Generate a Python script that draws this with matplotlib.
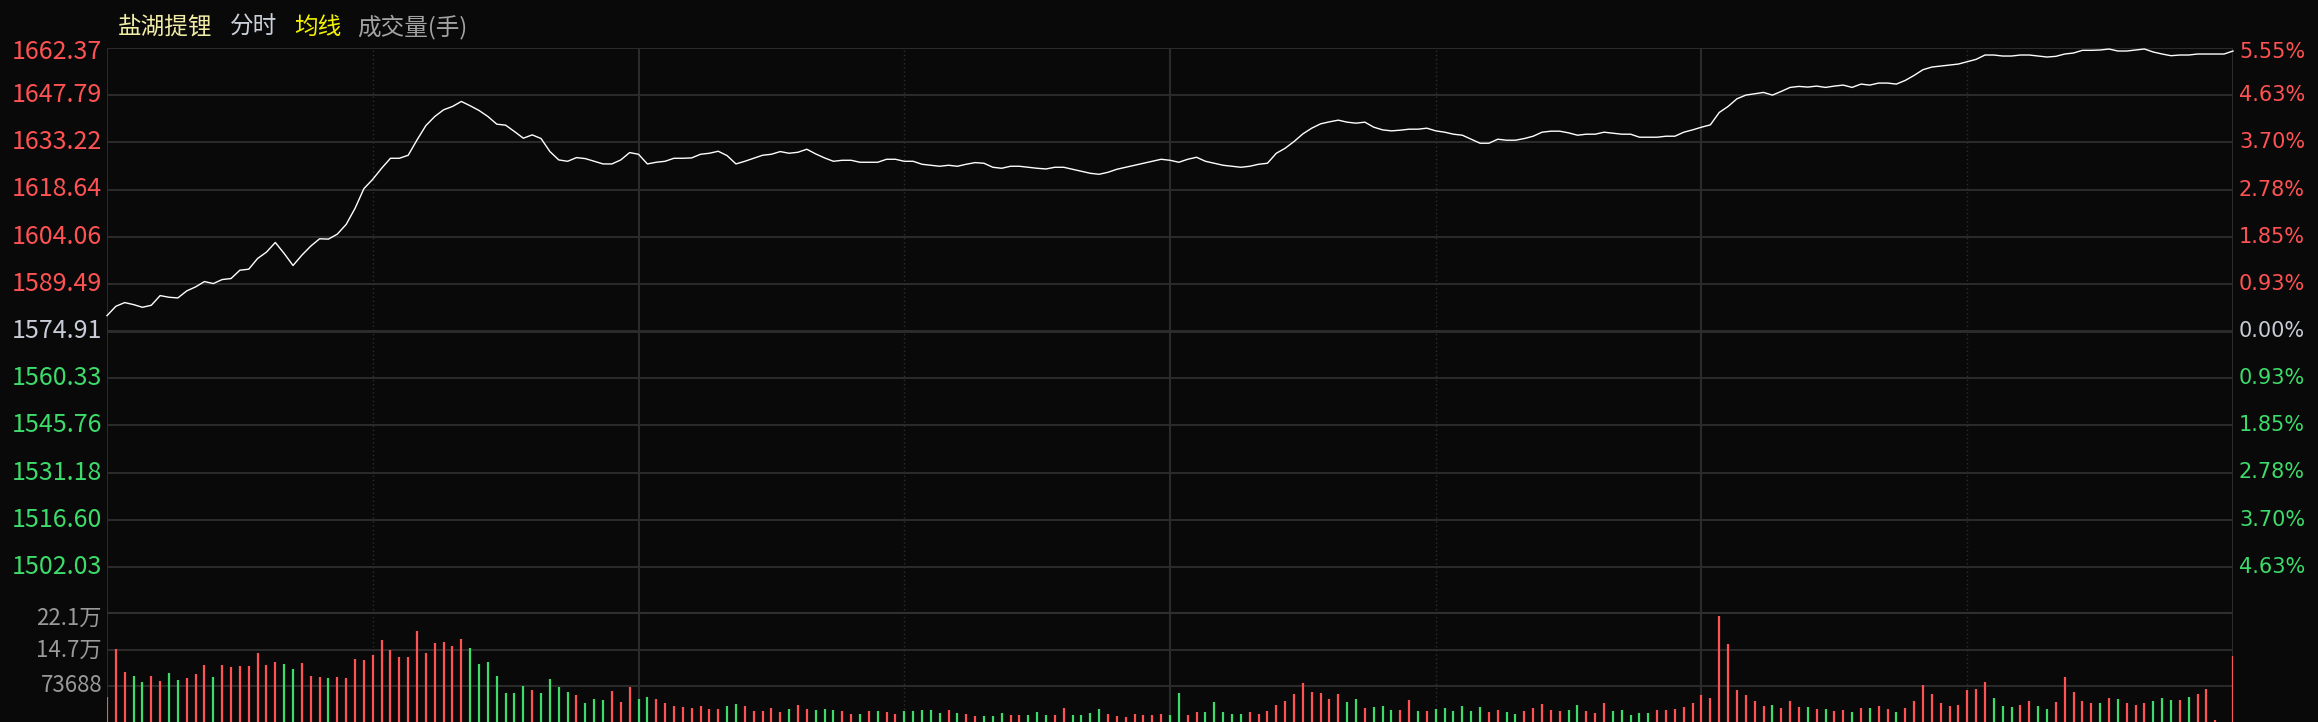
import numpy as np
import matplotlib.pyplot as plt
import matplotlib.transforms as mtransforms

plt.rcParams['font.family'] = ['Noto Sans CJK SC', 'DejaVu Sans']

# Intraday data, one point per minute from 9:30 to 15:00 (241 points)
prev_close = 1574.91
price_ticks = ['1662.37', '1647.79', '1633.22', '1618.64', '1604.06', '1589.49',
               '1574.91', '1560.33', '1545.76', '1531.18', '1516.60', '1502.03']
pct_ticks = ['5.55%', '4.63%', '3.70%', '2.78%', '1.85%', '0.93%',
             '0.00%', '0.93%', '1.85%', '2.78%', '3.70%', '4.63%']
vol_ticks = [221064, 147376, 73688]
vol_tick_labels = ['22.1万', '14.7万', '73688']

prices = [
    1579.66, 1582.55, 1583.69, 1583.07, 1582.24, 1582.86, 1585.85, 1585.34, 1585.13, 1587.30,
    1588.54, 1590.19, 1589.57, 1590.81, 1591.12, 1593.70, 1594.01, 1597.32, 1599.28, 1602.27,
    1598.87, 1595.15, 1598.35, 1601.14, 1603.41, 1603.31, 1604.85, 1607.85, 1612.81, 1618.90,
    1621.79, 1625.20, 1628.29, 1628.29, 1629.22, 1633.97, 1638.41, 1641.20, 1643.27, 1644.30,
    1645.85, 1644.51, 1643.06, 1641.20, 1638.83, 1638.52, 1636.55, 1634.49, 1635.52, 1634.39,
    1630.36, 1627.78, 1627.36, 1628.50, 1628.19, 1627.36, 1626.54, 1626.54, 1627.78, 1630.05,
    1629.53, 1626.54, 1627.06, 1627.36, 1628.29, 1628.29, 1628.40, 1629.53, 1629.84, 1630.46,
    1629.12, 1626.54, 1627.36, 1628.29, 1629.22, 1629.53, 1630.36, 1629.84, 1630.15, 1631.08,
    1629.64, 1628.40, 1627.36, 1627.67, 1627.67, 1627.06, 1627.06, 1627.06, 1627.98, 1627.98,
    1627.36, 1627.36, 1626.44, 1626.13, 1625.82, 1626.13, 1625.82, 1626.44, 1626.95, 1626.75,
    1625.51, 1625.20, 1625.82, 1625.82, 1625.51, 1625.20, 1624.99, 1625.51, 1625.51, 1624.89,
    1624.27, 1623.65, 1623.34, 1623.96, 1624.89, 1625.51, 1626.13, 1626.75, 1627.36, 1627.98,
    1627.67, 1627.06, 1627.98, 1628.60, 1627.36, 1626.75, 1626.13, 1625.82, 1625.51, 1625.82,
    1626.44, 1626.75, 1629.84, 1631.39, 1633.46, 1635.83, 1637.59, 1638.93, 1639.55, 1640.07,
    1639.45, 1639.14, 1639.45, 1637.90, 1637.07, 1636.76, 1636.97, 1637.28, 1637.28, 1637.59,
    1636.76, 1636.35, 1635.73, 1635.42, 1634.18, 1632.94, 1632.94, 1634.18, 1633.87, 1633.87,
    1634.39, 1635.11, 1636.35, 1636.66, 1636.66, 1636.14, 1635.42, 1635.73, 1635.73, 1636.35,
    1636.04, 1635.73, 1635.73, 1634.80, 1634.80, 1634.80, 1635.11, 1635.11, 1636.35, 1637.07,
    1637.90, 1638.62, 1642.44, 1644.30, 1646.67, 1647.81, 1648.22, 1648.64, 1647.81, 1648.95,
    1650.19, 1650.50, 1650.29, 1650.60, 1650.19, 1650.60, 1650.91, 1650.19, 1651.22, 1650.91,
    1651.53, 1651.53, 1651.22, 1652.35, 1653.90, 1655.66, 1656.48, 1656.79, 1657.10, 1657.41,
    1658.14, 1658.86, 1660.20, 1660.20, 1659.89, 1659.89, 1660.20, 1660.20, 1659.89, 1659.58,
    1659.79, 1660.51, 1660.82, 1661.65, 1661.65, 1661.75, 1662.06, 1661.44, 1661.44, 1661.75,
    1662.06, 1661.13, 1660.51, 1659.99, 1660.20, 1660.20, 1660.51, 1660.51, 1660.51, 1660.51,
    1661.44,
]

volumes = [
    51900, 149400, 102300, 94200, 81900, 94200, 83900, 100300, 86000, 90100,
    98300, 116700, 92100, 116700, 112600, 114600, 114600, 141200, 116700, 122800,
    118700, 108500, 120800, 94200, 92100, 90100, 92100, 90100, 129000, 126900,
    137100, 167800, 147400, 133000, 133000, 186300, 141200, 161700, 163800, 155600,
    169900, 151500, 118700, 122800, 94200, 59400, 59400, 73700, 65500, 59400,
    88000, 71600, 61400, 55300, 38900, 47100, 45000, 63500, 40900, 71600,
    47100, 51200, 47100, 38900, 32800, 30700, 28700, 32800, 26600, 26600,
    32800, 36800, 32800, 22500, 22500, 28700, 20500, 26600, 34800, 26600,
    24600, 26600, 24600, 22500, 16400, 16400, 22500, 22500, 20500, 16400,
    22500, 22500, 24600, 24600, 18400, 24600, 18400, 16400, 12300, 12300,
    12300, 18400, 14300, 14300, 14300, 20500, 14300, 14300, 28700, 14300,
    14300, 18400, 26600, 16400, 12300, 10200, 16400, 14300, 14300, 16400,
    14300, 59400, 14300, 20500, 20500, 40900, 20500, 16400, 16400, 20500,
    16400, 22500, 34800, 43000, 57300, 79800, 61400, 59400, 47100, 57300,
    40900, 47100, 28700, 30700, 32800, 24600, 24600, 45000, 22500, 22500,
    26600, 28700, 22500, 32800, 22500, 30700, 20500, 24600, 20500, 16400,
    22500, 28700, 36800, 24600, 22500, 24600, 34800, 22500, 18400, 38900,
    22500, 24600, 14300, 18400, 18400, 24600, 24600, 26600, 30700, 38900,
    55300, 49100, 217000, 159700, 65500, 55300, 43000, 32800, 34800, 28700,
    43000, 30700, 30700, 26600, 26600, 22500, 24600, 20500, 28700, 28700,
    32800, 26600, 20500, 28700, 43000, 75700, 57300, 38900, 32800, 34800,
    65500, 67500, 81900, 49100, 32800, 30700, 34800, 43000, 32800, 26600,
    40900, 92100, 61400, 43000, 38900, 38900, 49100, 47100, 38900, 34800,
    38900, 43000, 49100, 45000, 45000, 51200, 57300, 67500, 4100, 0,
    135100,
]

# r = up bar, g = down bar
bar_dirs = ("rrrggrrggr" "rrgrrrrrrr" "ggrrrgrrrr" "rrrrrrrrrr" "rgggggggrg"
            "gggrgggrrr" "ggrrrrrrrr" "ggrrrrrgrr" "gggrrgrgrr" "gggggrgrrg"
            "ggrrgggrrg" "gggrrrrrrr" "ggrrgggggr" "rrrrrrrrrr" "ggrgggrrgr"
            "ggggggrrgg" "rrrrrggrrr" "gggggrrrrr" "rrrrrrrrgr" "rrgrgrrgrg"
            "rrgrrrrrrr" "rrrgggrrgg" "rrrrrgrgrr" "rgggrgrrrr" "r")

# colours
BG = '#090909'
GRID = '#2b2b2b'
RED = '#ff5252'
GREEN = '#3ddc6a'
NEUTRAL = '#c8ccd6'

W, H = 2318, 722
fig = plt.figure(figsize=(W / 100, H / 100), dpi=100, facecolor=BG)

left, right = 107, 2233
top, sep = 48, 614
ax = fig.add_axes([left / W, (H - sep) / H, (right - left) / W, (sep - top) / H])
axv = fig.add_axes([left / W, 0, (right - left) / W, (H - sep) / H])

step = (1662.37 - prev_close) / 6
y_top = prev_close + 6 * step
y_bot = prev_close - 6 * step
minutes = np.arange(len(prices))

for a in (ax, axv):
    a.set_facecolor(BG)
    a.set_xlim(0, 240)
    a.set_xticks([])
    a.set_yticks([])
    for s in a.spines.values():
        s.set_visible(False)
    # vertical grid: solid every hour, dotted every half hour
    for m in (60, 120, 180):
        a.axvline(m, color=GRID, lw=1.5, zorder=1)
    for m in (30, 90, 150, 210):
        a.axvline(m, color='#2e2e2e', lw=1, ls=(0, (1, 2)), zorder=1)
    a.axvline(0, color=GRID, lw=1.5, zorder=1)
    a.axvline(240, color=GRID, lw=1.5, zorder=1)

# price pane
ax.set_ylim(y_bot, y_top)
for k in range(-6, 7):
    lw = 2.2 if k == 0 else 1.4
    ax.axhline(prev_close + k * step, color=GRID, lw=lw, zorder=1)
ax.axhline(y_bot, color='#2f2f2f', lw=3, zorder=1)
ax.plot(minutes, prices, color='white', lw=1.0, zorder=3, clip_on=False)

lab_tr = mtransforms.blended_transform_factory(ax.transAxes, ax.transData)
for k, (pl, cl) in enumerate(zip(price_ticks, pct_ticks)):
    yv = y_top - k * step
    if k < 6:
        col = RED
    elif k == 6:
        col = NEUTRAL
    else:
        col = GREEN
    ytxt = yv - step * 0.08 if k == 0 else yv
    ax.text((102 - left) / (right - left), ytxt, pl, transform=lab_tr,
            ha='right', va='center', fontsize=18, color=col)
    ax.text((2239 - left) / (right - left), ytxt, cl, transform=lab_tr,
            ha='left', va='center', fontsize=15, color=col,
            family=['DejaVu Sans'])

# volume pane
vmax = vol_ticks[0]
axv.set_ylim(0, vmax)
for v in vol_ticks[1:]:
    axv.axhline(v, color=GRID, lw=1.4, zorder=1)
bar_cols = [RED if d == 'r' else GREEN for d in bar_dirs]
axv.vlines(minutes, 0, volumes, colors=bar_cols, lw=1.6, zorder=2)

vtr = mtransforms.blended_transform_factory(axv.transAxes, axv.transData)
for v, lab in zip(vol_ticks, vol_tick_labels):
    yv = v - vmax * 0.04 if v == vmax else v
    axv.text((102 - left) / (right - left), yv, lab, transform=vtr,
             ha='right', va='center', fontsize=16, color='#9a9a9a')

# header
header = [('盐湖提锂', 118, '#f2eda6'), ('分时', 230, '#c9d1da'),
          ('均线', 294, '#f5f200'), ('成交量(手)', 357, '#a3a3a3')]
for txt, xp, col in header:
    fig.text(xp / W, 1 - 27 / H, txt, ha='left', va='center', fontsize=17, color=col)

fig.savefig('out.png', dpi=100, facecolor=BG)
